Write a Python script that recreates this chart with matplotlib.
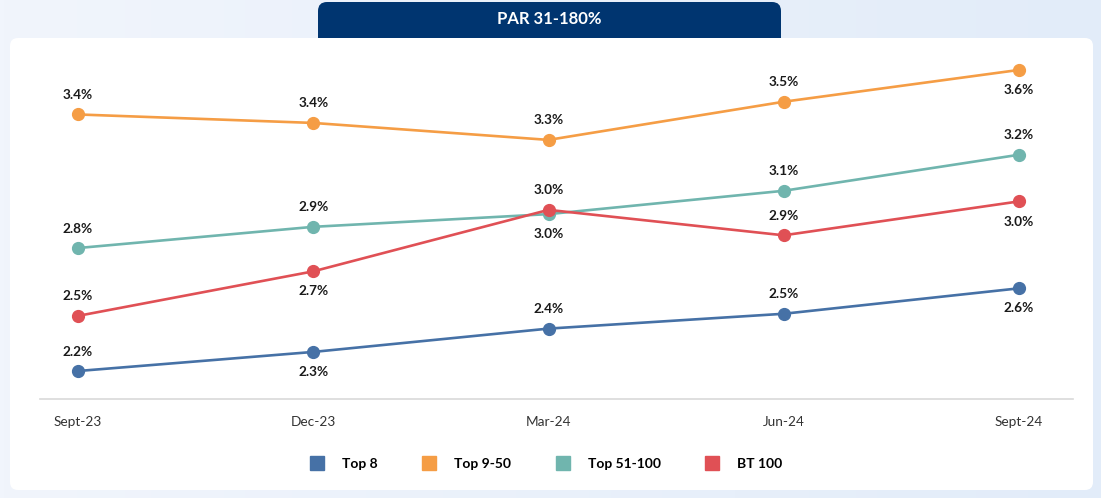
"""PAR 31-180% trend chart."""

import matplotlib
matplotlib.use("Agg")
import numpy as np
import matplotlib.pyplot as plt
from matplotlib.patches import FancyBboxPatch
from matplotlib.lines import Line2D

periods = ["Sept-23", "Dec-23", "Mar-24", "Jun-24", "Sept-24"]
series_names = ["Top 8", "Top 9-50", "Top 51-100", "BT 100"]
top_8 = [2.22, 2.31, 2.42, 2.49, 2.61]
top_9_50 = [3.43, 3.39, 3.31, 3.49, 3.64]
top_51_100 = [2.80, 2.90, 2.96, 3.07, 3.24]
bt_100 = [2.48, 2.69, 2.98, 2.86, 3.02]

colors = ["#4671a6", "#f59d45", "#70b5ae", "#e05055"]
# +1 label above the point, -1 below
label_side = [
    [1, -1, 1, 1, -1],
    [1, 1, 1, 1, -1],
    [1, 1, -1, 1, 1],
    [1, -1, 1, 1, -1],
]

plt.rcParams["font.family"] = ["Lato", "DejaVu Sans"]

W, H = 1101, 498
fig = plt.figure(figsize=(W / 100, H / 100), dpi=100)

# background layer in pixel coordinates
bg = fig.add_axes([0, 0, 1, 1], zorder=-10)
bg.set_xlim(0, W)
bg.set_ylim(H, 0)
bg.axis("off")
grad = np.linspace(0, 1, 256).reshape(1, -1)
bg.imshow(grad, extent=[0, W, H, 0], aspect="auto",
          cmap=matplotlib.colors.LinearSegmentedColormap.from_list("g", ["#f1f5fc", "#e2ecf9"]))
bg.add_patch(FancyBboxPatch((318, 2), 463, 60, boxstyle="round,pad=0,rounding_size=9",
                            facecolor="#003570", edgecolor="none"))
bg.add_patch(FancyBboxPatch((10, 38), 1083, 452, boxstyle="round,pad=0,rounding_size=8",
                            facecolor="white", edgecolor="none"))
bg.text(549, 19, "PAR 31-180%", color="white", fontsize=12, fontweight="bold",
        ha="center", va="center")

ax = fig.add_axes([40 / W, 1 - 399 / H, (1073 - 40) / W, (399 - 50) / H])
ax.set_facecolor("none")
x = np.arange(len(periods))
for name, vals, color, sides in zip(series_names, [top_8, top_9_50, top_51_100, bt_100],
                                    colors, label_side):
    ax.plot(x, vals, color=color, lw=1.9, marker="o", ms=8.5, label=name, zorder=3)
    for xi, v, s in zip(x, vals, sides):
        ax.annotate(f"{v:.1f}%", (xi, v), xytext=(0, 14 if s > 0 else -14.5),
                    textcoords="offset points", ha="center", va="center",
                    fontsize=9.8, fontweight="bold", color="#1a1a1a")

ax.set_xlim(-0.1615, 4.2295)
ax.set_ylim(2.088, 3.734)
ax.set_xticks(x)
ax.set_xticklabels(periods, fontsize=9.8, color="#333333")
ax.set_yticks([])
ax.tick_params(axis="x", length=0, pad=12)
for side in ["top", "left", "right"]:
    ax.spines[side].set_visible(False)
ax.spines["bottom"].set_color("#d9d9d9")
ax.spines["bottom"].set_linewidth(1.2)

handles = [Line2D([], [], marker="s", ls="none", ms=10, color=c) for c in colors]
fig.legend(handles, series_names, loc="center", bbox_to_anchor=(543 / W, 1 - 464 / H),
           ncol=4, frameon=False, columnspacing=2.7, handletextpad=0.8,
           prop={"weight": "bold", "size": 10})

fig.savefig("out.png", dpi=100)
